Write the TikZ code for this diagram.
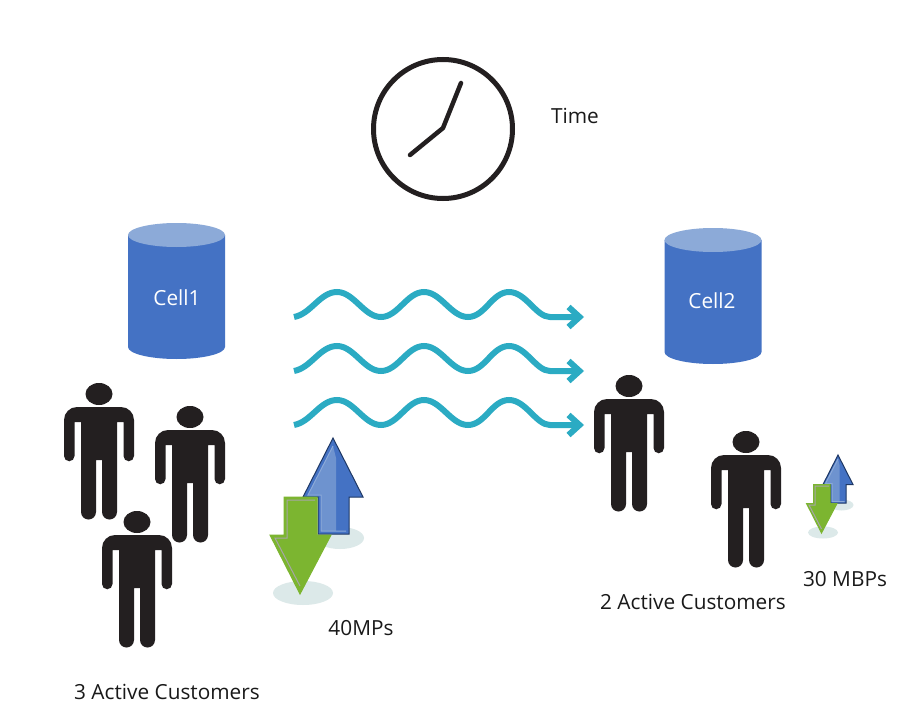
\documentclass[tikz,border=0pt]{standalone}
\usepackage{fontspec}
\setmainfont{Open Sans}
\usetikzlibrary{arrows.meta}

\definecolor{cellblue}{HTML}{4472C4}
\definecolor{celltop}{HTML}{8CAAD8}
\definecolor{wavecol}{HTML}{2BABC3}
\definecolor{personcol}{HTML}{231F20}
\definecolor{downgreen}{HTML}{7CB530}
\definecolor{upnavy}{HTML}{1F3864}
\definecolor{uplight}{HTML}{6E93CF}
\definecolor{shadowcol}{HTML}{DCE9E9}

\tikzset{
  label/.style={font=\fontsize{20.8}{24}\selectfont,text=black!90,inner sep=0pt},
  wave/.style={draw=wavecol,line width=6pt,-{Straight Barb[length=11pt,width=20pt]}},
  pics/cellstack/.style={code={
    \fill[cellblue] (-48.5,0) -- (-48.5,112) arc[start angle=180,end angle=0,x radius=48.5,y radius=12]
      -- (48.5,0) -- cycle;
    \fill[celltop] (0,0) ellipse [x radius=48.5,y radius=12];
  }},
  pics/person/.style={code={
    \fill[personcol] (0,0) ellipse [x radius=13.5,y radius=11];
    \fill[personcol] (-22,13) -- (22,13) arc[start angle=-90,end angle=0,radius=13]
      -- (35,62) arc[start angle=0,end angle=180,radius=5.25]
      -- (24.5,28) -- (18,28) -- (18,118) arc[start angle=0,end angle=180,radius=7.5]
      -- (3,66) -- (-3,66) -- (-3,118) arc[start angle=0,end angle=180,radius=7.5]
      -- (-18,28) -- (-24.5,28) -- (-24.5,62) arc[start angle=0,end angle=180,radius=5.25]
      -- (-35,26) arc[start angle=180,end angle=270,radius=13] -- cycle;
  }},
  pics/updown/.style={code={
    % shadows first, then blue arrow, green arrow on top
    \fill[shadowcol] (-30,155) ellipse [x radius=30,y radius=12];
    \fill[shadowcol] (7,100) ellipse [x radius=24,y radius=11];
    \filldraw[fill=cellblue,draw=upnavy,line width=1pt] (0,0) -- (30,59) -- (16,59) -- (16,96)
      -- (-15,96) -- (-15,59) -- (-30,59) -- cycle;
    \fill[uplight] (0,8) -- (-25,57) -- (-12,57) -- (-12,93) -- (3,93) -- (3,20) -- cycle;
    \draw[celltop,line width=1pt] (0,8) -- (-25,57) -- (-12,57) -- (-12,93) -- (13,93);
    \filldraw[fill=downgreen,draw=downgreen,line width=1pt] (-49,59) -- (-16,59) -- (-16,97)
      -- (-2,97) -- (-33,156) -- (-63,97) -- (-49,97) -- cycle;
    \draw[black!35,line width=1pt] (-18,62) -- (-46,62) -- (-46,100) -- (-58,100) -- (-33,148);
  }},
}

\begin{document}
\begin{tikzpicture}[x=1pt,y=-1pt]
  \useasboundingbox[fill=white] (0,0) rectangle (922,720);

  % clock
  \node[circle,draw=personcol,line width=5pt,minimum size=139,inner sep=0pt] (clock) at (443,129) {};
  \coordinate (pivot) at (443,128);
  \coordinate (hourtip) at (410,155);
  \coordinate (minutetip) at (461,83);
  \draw[personcol,line width=4.5pt,line cap=round] (hourtip) -- (pivot) -- (minutetip);
  \node[label] (time) at (575,116) {Time};

  % cells
  \pic at (176.5,235) {cellstack};
  \pic at (713,240) {cellstack};
  \node[label,text=white] (cell1) at (177,298) {Cell1};
  \node[label,text=white] (cell2) at (712,301) {Cell2};

  % waves
  \foreach \n/\y in {1/317,2/371,3/425}{
    \coordinate (wave\n a) at (294,\y);
    \coordinate (wave\n b) at (584,\y);
    \draw[wave] (wave\n a) .. controls +(17,-3) and +(-17,0) .. ++(43,-25)
      .. controls +(17,0) and +(-17,0) .. ++(44,25)
      .. controls +(17,0) and +(-17,0) .. ++(43,-25)
      .. controls +(17,0) and +(-17,0) .. ++(44,25)
      .. controls +(17,0) and +(-17,0) .. ++(41,-25)
      .. controls +(17,0) and +(-14,0) .. ++(41,25) -- (wave\n b);
  }

  % customers
  \pic at (99,394) {person};
  \pic at (190,417) {person};
  \pic at (137,522) {person};
  \pic at (629,386) {person};
  \pic at (746,442) {person};

  % up and down arrows
  \pic at (333,438) {updown};
  \pic[scale=.5] at (838,455) {updown};

  \node[label] (rate1) at (361,628) {40MPs};
  \node[label] (rate2) at (845,579) {30 MBPs};
  \node[label] (count2) at (693,602) {2 Active Customers};
  \node[label] (count1) at (167,692) {3 Active Customers};
\end{tikzpicture}
\end{document}
